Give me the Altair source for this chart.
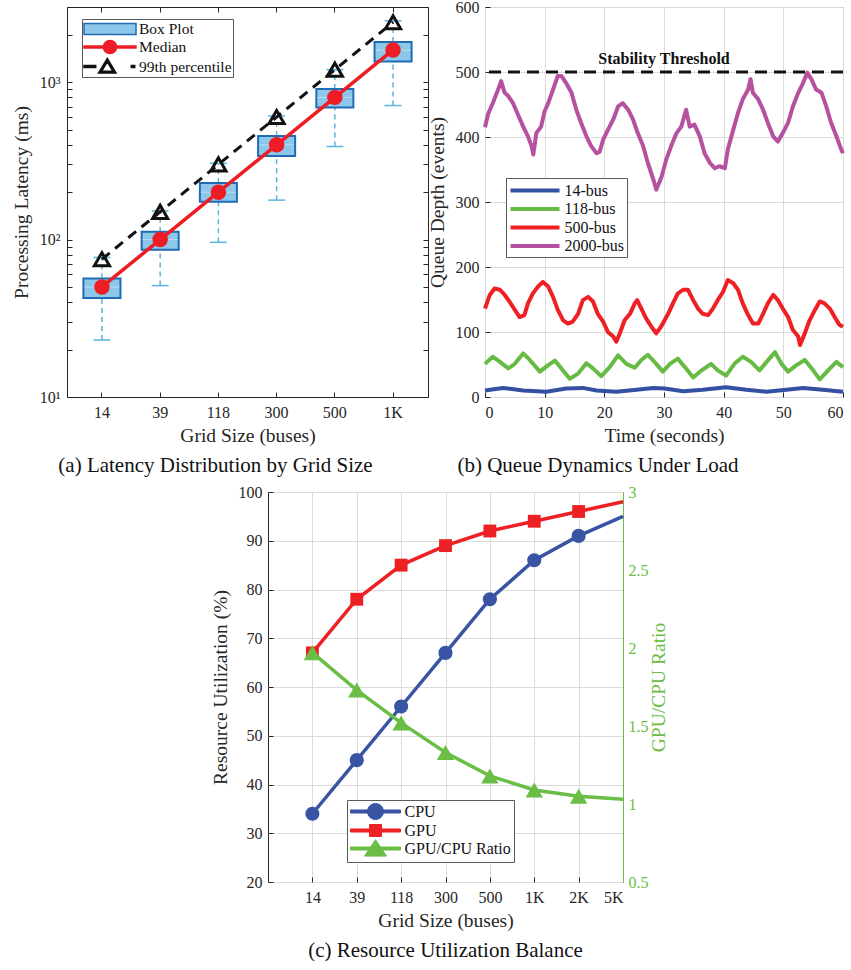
import json
import altair as alt
import pandas as pd

FONT = "Liberation Serif"
INK = "#262626"
GRID = "#dcdcdc"

# ---------------- (a) Latency distribution ----------------
a_sizes = ["14", "39", "118", "300", "500", "1K"]
a_median = [50, 100, 200, 400, 800, 1600]
a_q1 = [42.5, 86, 174, 340, 690, 1350]
a_q3 = [56.5, 112, 229, 455, 905, 1800]
a_low = [23, 51, 96, 178, 390, 710]
a_high = [77, 152, 305, 610, 1200, 2450]
a_p99 = [75, 150, 300, 600, 1200, 2400]
a_legend = ["Box Plot", "Median", "99th percentile"]

# ---------------- (b) Queue dynamics ----------------
b_names = ["14-bus", "118-bus", "500-bus", "2000-bus"]
b_colors = ["#3450a0", "#66bb44", "#ee2024", "#b5519f"]
t_14 = [0, 3.0, 6.4, 10.3, 13.6, 16.4, 18.7, 22.0, 25.4, 28.2, 30.1, 33.2, 36.5,
        40.4, 43.8, 47.2, 50.5, 53.3, 56.6, 60]
v_14 = [10, 14, 10, 8, 13, 14, 10, 8, 11, 14, 13, 9, 11, 15, 11, 8, 11, 14, 11, 8]
t_118 = [0, 1.3, 2.5, 3.9, 5.0, 6.4, 7.5, 9.2, 10.6, 11.7, 12.8, 14.2, 15.6, 17.0,
         18.1, 19.5, 20.9, 22.3, 23.7, 25.1, 26.2, 27.3, 28.7, 29.8, 31.0, 32.3,
         33.5, 34.9, 36.3, 37.9, 39.0, 40.4, 41.8, 43.2, 44.6, 46.0, 47.2, 48.6,
         49.7, 50.8, 52.2, 53.6, 55.0, 56.1, 57.5, 58.9, 60]
v_118 = [51, 62, 54, 44, 51, 67, 57, 39, 49, 56, 44, 28, 36, 52, 44, 32, 46, 64,
         51, 45, 57, 65, 51, 39, 51, 59, 46, 30, 41, 51, 41, 33, 51, 62, 54, 41,
         54, 69, 51, 39, 49, 57, 41, 27, 41, 54, 46]
t_500 = [0, 0.8, 1.6, 2.5, 3.3, 4.1, 5.0, 5.8, 6.6, 7.2, 8.0, 8.9, 9.7, 10.6, 11.4,
         12.2, 13.1, 13.9, 14.7, 15.6, 16.4, 17.3, 18.1, 18.9, 19.8, 20.6, 21.5,
         22.0, 22.6, 23.4, 24.3, 25.1, 25.5, 26.2, 27.0, 27.9, 28.7, 29.5, 30.7,
         31.5, 32.3, 33.2, 34.0, 34.9, 35.7, 36.5, 37.4, 38.2, 39.0, 39.9, 40.7,
         41.6, 42.4, 43.2, 44.1, 44.9, 45.8, 46.6, 47.4, 48.3, 49.1, 49.9, 50.8,
         51.6, 52.5, 52.8, 53.6, 54.4, 55.3, 56.1, 56.9, 57.8, 58.6, 59.4, 60]
v_500 = [136, 157, 167, 165, 157, 147, 134, 123, 126, 144, 159, 170, 177, 170,
         154, 134, 118, 113, 116, 128, 149, 154, 147, 128, 116, 100, 93, 85, 98,
         118, 128, 144, 149, 136, 121, 108, 98, 108, 128, 144, 159, 165, 165, 149,
         136, 128, 126, 136, 149, 162, 180, 175, 165, 144, 126, 113, 113, 128, 144,
         157, 149, 136, 123, 103, 93, 80, 98, 118, 134, 147, 144, 136, 123, 111, 108]
t_2000 = [0, 0.5, 1.3, 2.2, 2.7, 3.3, 3.9, 4.7, 5.5, 6.4, 7.2, 7.8, 8.1, 8.6, 9.4,
          10.0, 10.6, 11.4, 12.2, 12.8, 13.6, 14.5, 15.3, 16.1, 17.0, 17.8, 18.7,
          19.2, 19.8, 20.6, 21.5, 22.3, 23.1, 24.0, 24.8, 25.6, 26.5, 27.3, 28.2,
          28.7, 29.6, 30.4, 31.2, 32.1, 32.9, 33.7, 34.3, 35.1, 36.0, 36.8, 37.7,
          38.5, 39.3, 40.2, 40.7, 41.6, 42.4, 43.2, 44.1, 44.5, 44.9, 45.8, 46.6,
          47.4, 48.3, 49.1, 49.9, 50.8, 51.6, 52.5, 53.3, 54.0, 54.7, 55.5, 56.4,
          57.2, 58.0, 58.9, 59.7, 60]
v_2000 = [415, 435, 452, 473, 486, 468, 463, 452, 435, 416, 401, 386, 373, 406,
          416, 440, 452, 473, 494, 494, 483, 468, 442, 422, 401, 386, 375, 377,
          396, 411, 427, 447, 452, 442, 427, 406, 386, 360, 335, 319, 339, 366,
          386, 406, 416, 442, 416, 419, 401, 375, 360, 352, 355, 352, 381, 411,
          437, 458, 473, 489, 468, 458, 442, 422, 401, 393, 406, 422, 447, 468,
          483, 499, 489, 473, 468, 447, 422, 401, 381, 375]
b_threshold = [500]
b_note_t = [30]
b_note_v = [520]
b_note = ["Stability Threshold"]

# ---------------- (c) Resource utilisation ----------------
c_sizes = ["14", "39", "118", "300", "500", "1K", "2K", "5K"]
c_pos = [1, 2, 3, 4, 5, 6, 7, 8]
c_cpu = [34, 45, 56, 67, 78, 86, 91, 95]
c_gpu = [67, 78, 85, 89, 92, 94, 96, 98]
c_ratio = [1.97, 1.73, 1.52, 1.33, 1.18, 1.09, 1.05, 1.03]
c_legend = ["CPU", "GPU", "GPU/CPU Ratio"]
c_colors = ["#3a54a4", "#ed2024", "#6abd45"]

# =====================================================================
lab16 = dict(labelFontSize=16, titleFontSize=19.5)
CAP = 21
LEG = dict(title=None, orient="none", labelFont=FONT, labelColor="#111111",
           fillColor="white", strokeColor="#5a5a5a", symbolSize=256)

# ---- panel (a)
a_df = pd.DataFrame({"size": a_sizes, "median": a_median, "q1": a_q1, "q3": a_q3,
                     "low": a_low, "high": a_high, "p99": a_p99})
a_xs = alt.Scale(type="band", domain=a_sizes, paddingInner=0.364, paddingOuter=0.282)
a_ys = alt.Scale(type="log", domain=[10, 3000], nice=False)
a_ticks = [m * 10 ** e for e in (1, 2, 3) for m in range(1, 10) if m * 10 ** e <= 3000]
sup = "datum.value==10?'10\u00b9':datum.value==100?'10\u00b2':datum.value==1000?'10\u00b3':''"

a_xaxis = alt.Axis(title="Grid Size (buses)", tickSize=5, offset=-5, domain=False, grid=False,
                   labelPadding=7, titlePadding=6, labelAngle=0, **lab16)
a_yaxis = alt.Axis(title="Processing Latency (ms)", values=a_ticks, labelExpr=sup, grid=False,
                   tickSize=5, offset=-5, domain=False, labelPadding=7, titlePadding=8,
                   labelOverlap=False, **lab16)

base_a = alt.Chart(a_df)
xa = alt.X("size:N", scale=a_xs, sort=a_sizes, axis=a_xaxis)
whisk_lo = base_a.mark_rule(color="#5ab4e0", strokeDash=[5, 4], strokeWidth=1.5).encode(
    x=xa, y=alt.Y("low:Q", scale=a_ys, axis=a_yaxis), y2="q1:Q")
whisk_hi = base_a.mark_rule(color="#5ab4e0", strokeDash=[5, 4], strokeWidth=1.5).encode(
    x=xa, y=alt.Y("q3:Q", scale=a_ys), y2="high:Q")
cap_lo = base_a.mark_tick(color="#5ab4e0", size=17, thickness=1.5, opacity=1).encode(
    x=xa, y=alt.Y("low:Q", scale=a_ys))
cap_hi = base_a.mark_tick(color="#5ab4e0", size=17, thickness=1.5, opacity=1).encode(
    x=xa, y=alt.Y("high:Q", scale=a_ys))
box = base_a.mark_bar(fill="#8dc8ea", stroke="#1f6cb5", strokeWidth=2).encode(
    x=xa, y=alt.Y("q1:Q", scale=a_ys), y2="q3:Q")
box_mid = base_a.mark_tick(color="#b7def3", size=35, thickness=1, opacity=1).encode(
    x=xa, y=alt.Y("median:Q", scale=a_ys))
p99_line = base_a.mark_line(color="#111111", strokeDash=[10, 7], strokeWidth=3).encode(
    x=xa, y=alt.Y("p99:Q", scale=a_ys))
p99_pts = base_a.mark_point(shape="triangle-up", filled=False, stroke="#111111",
                            strokeWidth=3, size=230, opacity=1).encode(
    x=xa, y=alt.Y("p99:Q", scale=a_ys))
med_line = base_a.mark_line(color="#ee1c25", strokeWidth=3.5).encode(
    x=xa, y=alt.Y("median:Q", scale=a_ys))
med_pts = base_a.mark_point(shape="circle", filled=True, color="#ee1c25", size=240,
                            opacity=1).encode(x=xa, y=alt.Y("median:Q", scale=a_ys))

# legend symbols: unit = 8 px, drawn from x=-1 rightwards (about 52 px wide), filled shapes
a_leg_df = pd.DataFrame({"entry": a_legend, "size": [a_sizes[0]] * 3, "yy": [1, 1, 1]})
a_paths = ["M-1,-0.7H5.5V0.7H-1Z",
           "M-1,-0.125H5.5V0.125H-1Z M1.43,0A0.82,0.82,0,1,1,3.07,0A0.82,0.82,0,1,1,1.43,0Z",
           "M-1,-0.125H0.46V0.125H-1Z M4.91,-0.125H5.34V0.125H4.91Z "
           "M1.91,-1L3,0.8L0.82,0.8Z M1.91,-0.57L1.21,0.58L2.61,0.58Z"]
a_leg = alt.Legend(legendX=15, legendY=12, labelFontSize=15.5, symbolStrokeWidth=1.5,
                   padding=1, rowPadding=-1.5, labelOffset=38,
                   labelExpr="datum.label + '\u00a0\u00a0'", **LEG)
a_legend_layer = alt.Chart(a_leg_df).mark_point(filled=True, opacity=1, clip=True).encode(
    x=xa, y=alt.Y("yy:Q", scale=a_ys),
    shape=alt.Shape("entry:N", sort=a_legend, scale=alt.Scale(domain=a_legend, range=a_paths), legend=a_leg),
    fill=alt.Fill("entry:N", sort=a_legend, scale=alt.Scale(domain=a_legend, range=["#8dc8ea", "#ee1c25", "#111111"]), legend=a_leg),
    stroke=alt.Stroke("entry:N", sort=a_legend, scale=alt.Scale(domain=a_legend, range=["#1f6cb5", "#ee1c25", "#111111"]), legend=a_leg))

a_main = alt.layer(whisk_lo, whisk_hi, cap_lo, cap_hi, box, box_mid, p99_line, p99_pts,
                   med_line, med_pts, a_legend_layer)
a_mirror = base_a.mark_point(opacity=0).encode(
    x=alt.X("size:N", scale=a_xs, sort=a_sizes,
            axis=alt.Axis(orient="top", labels=False, title=None, domain=False, grid=False,
                          tickSize=5, offset=-5)),
    y=alt.Y("median:Q", scale=a_ys,
            axis=alt.Axis(orient="right", labels=False, title=None, domain=False, grid=False,
                          values=a_ticks, tickSize=5, offset=-5)))
panel_a = alt.layer(a_main, a_mirror).resolve_scale(x="independent", y="independent").properties(
    width=361, height=390,
    view=alt.ViewBackground(stroke=INK, strokeWidth=1),
    title=alt.TitleParams("(a) Latency Distribution by Grid Size", orient="bottom",
                          offset=10, anchor="middle", frame="group", dx=-32))

# ---- panel (b)
rows = []
for name, ts, vs in zip(b_names, [t_14, t_118, t_500, t_2000], [v_14, v_118, v_500, v_2000]):
    for t, v in zip(ts, vs):
        rows.append({"series": name, "t": t, "v": v})
b_df = pd.DataFrame(rows)
b_xs = alt.Scale(domain=[0, 60], nice=False)
b_ys = alt.Scale(domain=[0, 600], nice=False)
b_stroke_scale = alt.Scale(domain=b_names, range=b_colors)
b_leg = alt.Legend(legendX=21, legendY=171, labelFontSize=16, symbolStrokeWidth=4,
                   padding=2.5, rowPadding=0.5, labelOffset=36, **LEG)
b_x = alt.X("t:Q", scale=b_xs, axis=alt.Axis(title="Time (seconds)", values=list(range(0, 61, 10)),
            grid=True, tickSize=5, offset=-5, domain=False, labelPadding=7, titlePadding=6, **lab16))
b_y = alt.Y("v:Q", scale=b_ys, axis=alt.Axis(title="Queue Depth (events)", values=list(range(0, 601, 100)),
            grid=True, tickSize=5, offset=-5, domain=False, labelPadding=6, titlePadding=8, **lab16))
b_lines = alt.Chart(b_df).mark_line(strokeWidth=4, strokeJoin="round").encode(
    x=b_x, y=b_y,
    stroke=alt.Stroke("series:N", sort=b_names, scale=b_stroke_scale, legend=b_leg),
    order="t:Q")
b_leg_df = pd.DataFrame({"series": b_names, "t": [1] * 4, "v": [-100] * 4})
b_legend_layer = alt.Chart(b_leg_df).mark_point(filled=False, opacity=1, clip=True, strokeWidth=4).encode(
    x=alt.X("t:Q", scale=b_xs), y=alt.Y("v:Q", scale=b_ys),
    stroke=alt.Stroke("series:N", sort=b_names, scale=b_stroke_scale, legend=b_leg),
    shape=alt.Shape("series:N", sort=b_names, scale=alt.Scale(domain=b_names, range=["M-1,0H5.125"] * 4),
                    legend=b_leg))
b_rule = alt.Chart(pd.DataFrame({"v": b_threshold})).mark_rule(
    color="#111111", strokeWidth=3, strokeDash=[12, 7]).encode(y=alt.Y("v:Q", scale=b_ys))
b_text = alt.Chart(pd.DataFrame({"t": b_note_t, "v": b_note_v, "label": b_note})).mark_text(
    font=FONT, fontSize=16, fontWeight="bold", color="#111111").encode(
    x=alt.X("t:Q", scale=b_xs), y=alt.Y("v:Q", scale=b_ys), text="label:N")
panel_b = alt.layer(b_lines, b_legend_layer, b_rule, b_text).properties(
    width=358, height=390,
    view=alt.ViewBackground(stroke=INK, strokeWidth=1),
    title=alt.TitleParams("(b) Queue Dynamics Under Load", orient="bottom", offset=10,
                          anchor="middle", frame="group", dx=-66))

# ---- panel (c)
c_df = pd.DataFrame({"pos": c_pos, "size": c_sizes, "CPU": c_cpu, "GPU": c_gpu, "ratio": c_ratio})
c_xs = alt.Scale(domain=[0, 8], nice=False)
c_ys = alt.Scale(domain=[20, 100], nice=False)
c_rs = alt.Scale(domain=[0.5, 3], nice=False)
c_lab = json.dumps([""] + c_sizes)
xc = alt.X("pos:Q", scale=c_xs, axis=alt.Axis(title="Grid Size (buses)", values=c_pos,
           labelExpr=f"{c_lab}[datum.value]", grid=True, tickSize=5, offset=-5,
           domain=False, labelPadding=7, titlePadding=6, **lab16))
yc = alt.Y("CPU:Q", scale=c_ys, axis=alt.Axis(title="Resource Utilization (%)",
           values=list(range(20, 101, 10)), grid=True, tickSize=5, offset=-5,
           domain=False, labelPadding=6, titlePadding=8, **lab16))
base_c = alt.Chart(c_df)
shown = "datum.pos < 8"
cpu_line = base_c.mark_line(color=c_colors[0], strokeWidth=3.5).encode(x=xc, y=yc)
cpu_pts = base_c.transform_filter(shown).mark_point(shape="circle", filled=True, color=c_colors[0],
                                                     size=200, opacity=1).encode(x=xc, y=yc)
gpu_line = base_c.mark_line(color=c_colors[1], strokeWidth=3.5).encode(
    x=xc, y=alt.Y("GPU:Q", scale=c_ys))
gpu_pts = base_c.transform_filter(shown).mark_point(shape="square", filled=True, color=c_colors[1],
                                                     size=165, opacity=1).encode(
    x=xc, y=alt.Y("GPU:Q", scale=c_ys))
c_leg_df = pd.DataFrame({"entry": c_legend, "pos": [1, 1, 1], "CPU": [0, 0, 0]})
c_paths = ["M-1,-0.19H5.25V0.19H-1Z M1.125,0A1,1,0,1,1,3.125,0A1,1,0,1,1,1.125,0Z",
           "M-1,-0.19H5.25V0.19H-1Z M1.375,-0.75H2.875V0.75H1.375Z",
           "M-1,-0.19H5.25V0.19H-1Z M2.125,-1.1L3.5,0.95L0.75,0.95Z"]
c_leg = alt.Legend(legendX=79, legendY=308, labelFontSize=16, symbolStrokeWidth=1,
                   padding=3, rowPadding=-2, labelOffset=37.5, **LEG)
c_legend_layer = alt.Chart(c_leg_df).mark_point(filled=True, opacity=1, clip=True).encode(
    x=xc, y=yc,
    shape=alt.Shape("entry:N", sort=c_legend, scale=alt.Scale(domain=c_legend, range=c_paths), legend=c_leg),
    fill=alt.Fill("entry:N", sort=c_legend, scale=alt.Scale(domain=c_legend, range=c_colors), legend=c_leg),
    stroke=alt.Stroke("entry:N", sort=c_legend, scale=alt.Scale(domain=c_legend, range=c_colors), legend=c_leg))
yr = alt.Y("ratio:Q", scale=c_rs, axis=alt.Axis(title="GPU/CPU Ratio", orient="right",
           values=[0.5, 1, 1.5, 2, 2.5, 3], format="~g", grid=False, ticks=False,
           domain=True, domainColor=c_colors[2], labelColor=c_colors[2],
           titleColor=c_colors[2], labelPadding=5, titlePadding=1, titleAngle=270,
           titleBaseline="top", **lab16))
ratio_line = base_c.mark_line(color=c_colors[2], strokeWidth=3.5).encode(x=xc, y=yr)
ratio_pts = base_c.transform_filter(shown).mark_point(shape="triangle-up", filled=True,
                                                       color=c_colors[2], size=300, opacity=1).encode(x=xc, y=yr)
c_left = alt.layer(cpu_line, cpu_pts, gpu_line, gpu_pts, c_legend_layer)
c_right = alt.layer(ratio_line, ratio_pts)
panel_c = alt.layer(c_left, c_right).resolve_scale(y="independent").properties(
    width=355, height=390,
    view=alt.ViewBackground(stroke=INK, strokeWidth=1),
    title=alt.TitleParams("(c) Resource Utilization Balance", orient="bottom", offset=10,
                          anchor="middle", frame="group"))

spacer = alt.Chart(pd.DataFrame({"s": [0]})).mark_point(size=0.01, opacity=0).encode(
    x=alt.value(0), y=alt.value(0)).properties(width=142, height=10)

indep = dict(stroke="independent", fill="independent", shape="independent", color="independent")
row1 = alt.hconcat(panel_a, panel_b, spacing=57, bounds="flush").resolve_scale(**indep)
row2 = alt.hconcat(spacer, panel_c, spacing=0).resolve_scale(**indep)
chart = alt.vconcat(row1, row2, spacing=7).resolve_scale(**indep).properties(
    padding={"left": 10, "top": -2, "right": 0, "bottom": 0}
).configure_axis(
    labelFont=FONT, titleFont=FONT, labelColor=INK, titleColor=INK,
    titleFontWeight="normal", gridColor=GRID, gridWidth=1, tickColor=INK, tickWidth=1
).configure_legend(
    labelFont=FONT, labelColor="#111111", cornerRadius=0
).configure_title(
    font=FONT, fontSize=CAP, fontWeight="normal", color="#111111"
).configure_view(stroke=None)

chart.save("out.html", embed_options={"renderer": "svg", "actions": False})
